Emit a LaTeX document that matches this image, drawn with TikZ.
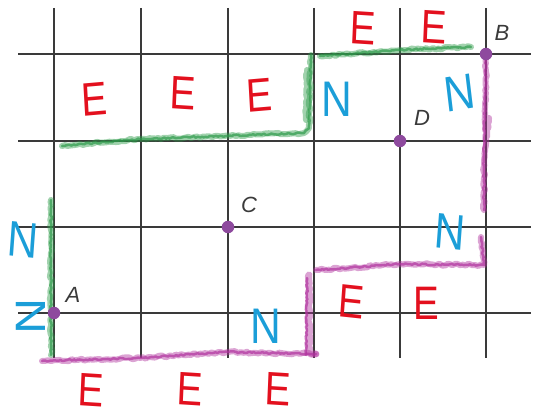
\documentclass[tikz,border=0pt]{standalone}
\usepackage{fontspec}
\setmainfont{Liberation Sans}
\usetikzlibrary{decorations.pathmorphing}
\definecolor{gridc}{HTML}{3A3A3A}
\definecolor{crayG}{HTML}{2E9B4A}
\definecolor{crayM}{HTML}{B0329E}
\definecolor{letR}{HTML}{E3101E}
\definecolor{letB}{HTML}{1B9ED8}
\definecolor{dotc}{HTML}{8E4A9E}
\tikzset{
  gridline/.style={draw=gridc, line width=1.4pt},
  dotnode/.style={circle, fill=dotc, inner sep=0pt, minimum size=12.5pt},
  ptlabel/.style={font=\fontsize{22}{22}\selectfont\itshape, text=gridc, inner sep=0pt},
  letE/.style={font=\fontsize{47}{47}\selectfont, text=letR, inner sep=0pt, xscale=0.82},
  letN/.style={font=\fontsize{50}{50}\selectfont, text=letB, inner sep=0pt, xscale=0.85},
  crayon/.style={line width=6pt, opacity=0.45, line cap=round, line join=round,
    decorate, decoration={random steps, segment length=3pt, amplitude=1.1pt}},
  crayonthin/.style={line width=2.5pt, opacity=0.7, line cap=round, line join=round,
    decorate, decoration={random steps, segment length=2pt, amplitude=0.8pt}}
}
\begin{document}
\begin{tikzpicture}[x=1pt, y=-1pt]
\useasboundingbox (0,0) rectangle (534,417);
% grid
\foreach \xx in {54,141,228,314,400,486} \draw[gridline] (\xx,8) -- (\xx,358);
\foreach \yy in {54,141,227,313} \draw[gridline] (18,\yy) -- (531,\yy);

% green crayon path
\coordinate (g1) at (51,355);
\coordinate (g2) at (51,200);
\coordinate (g3) at (62,146);
\coordinate (g4) at (140,139);
\coordinate (g5) at (304,133);
\coordinate (g6) at (309,128);
\coordinate (g7) at (311,55);
\coordinate (g8) at (320,56);
\coordinate (g9) at (400,50);
\coordinate (g10) at (471,47);
\draw[crayon, draw=crayG] (g1) -- (g2);
\draw[crayonthin, draw=crayG] (g1) -- (g2);
\draw[crayon, draw=crayG] (g3) -- (g4) -- (g5) -- (g6) -- (g7);
\draw[crayonthin, draw=crayG] (g3) -- (g4) -- (g5) -- (g6) -- (g7);
\draw[crayon, draw=crayG] (306,120) -- (307,70);
\draw[crayon, draw=crayG] (g8) -- (g9) -- (g10);
\draw[crayonthin, draw=crayG] (g8) -- (g9) -- (g10);

% magenta crayon path
\coordinate (m1) at (42,361);
\coordinate (m2) at (140,358);
\coordinate (m3) at (228,352);
\coordinate (m4) at (316,354);
\coordinate (m5) at (309,275);
\coordinate (m6) at (316,270);
\coordinate (m7) at (400,264);
\coordinate (m8) at (484,265);
\coordinate (m9) at (481,237);
\coordinate (m10) at (486,57);
\coordinate (m11) at (484,210);
\draw[crayon, draw=crayM] (m1) -- (m2) -- (m3) -- (m4);
\draw[crayonthin, draw=crayM] (m1) -- (m2) -- (m3) -- (m4);
\draw[crayon, draw=crayM, line width=7pt] (m4) -- (309,352) -- (m5);
\draw[crayonthin, draw=crayM] (306,355) -- (307,278);
\draw[crayon, draw=crayM] (m6) -- (m7) -- (m8) -- (m9);
\draw[crayonthin, draw=crayM] (m6) -- (m7) -- (m8) -- (m9);
\draw[crayon, draw=crayM] (m10) -- (485,130) -- (489,118) -- (484,160) -- (m11);
\draw[crayonthin, draw=crayM] (m10) -- (484,140) -- (m11);

% points
\node[dotnode] (A) at (54,313) {};
\node[dotnode] (C) at (228,227) {};
\node[dotnode] (D) at (400,141) {};
\node[dotnode] (B) at (486,54) {};
\node[ptlabel] (lA) at (73,295) {A};
\node[ptlabel] (lB) at (502,33) {B};
\node[ptlabel] (lC) at (249,205) {C};
\node[ptlabel] (lD) at (422,118) {D};

% E letters
\node[letE, rotate=4] (e1) at (94,99) {E};
\node[letE, rotate=-3] (e2) at (183,93) {E};
\node[letE, rotate=4] (e3) at (259,95) {E};
\node[letE, rotate=-3] (e4) at (363,28) {E};
\node[letE, rotate=-3] (e5) at (434,27) {E};
\node[letE, rotate=-5] (e6) at (351,302) {E};
\node[letE] (e7) at (426,303) {E};
\node[letE, rotate=-3] (e8) at (91,390) {E};
\node[letE, rotate=-3] (e9) at (190,389) {E};
\node[letE, rotate=-3] (e10) at (278,389) {E};

% N letters
\node[letN] (n1) at (337,99) {N};
\node[letN, rotate=8] (n2) at (460,93) {N};
\node[letN, rotate=-5] (n3) at (23,240) {N};
\node[letN, rotate=90] (n4) at (31,316) {N};
\node[letN] (n5) at (266,326) {N};
\node[letN, rotate=-5] (n6) at (450,232) {N};
\end{tikzpicture}
\end{document}
